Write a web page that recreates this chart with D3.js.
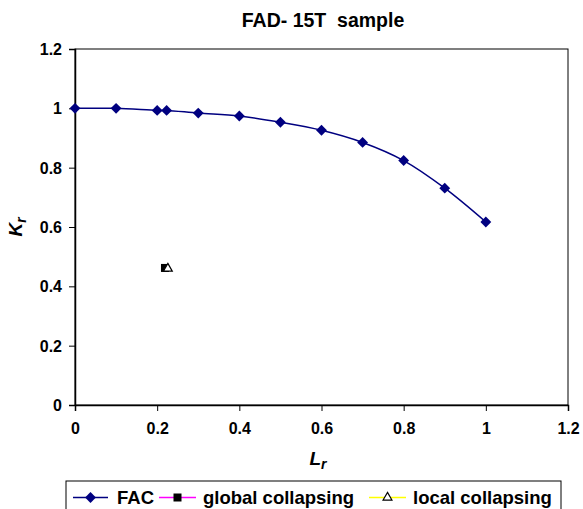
<!DOCTYPE html>
<html>
<head>
<meta charset="UTF-8">
<script src="https://cdn.jsdelivr.net/npm/d3@7"></script>
<style>
  body{margin:0;background:#fff;}
  text{font-family:"Liberation Sans",Arial,sans-serif;font-weight:bold;fill:#000;}
</style>
</head>
<body>
<div id="chart"></div>
<script>
// data
var facLr = [0, 0.1, 0.2, 0.223, 0.3, 0.4, 0.5, 0.6, 0.7, 0.8, 0.9, 1.0];
var facKr = [1, 1, 0.993, 0.993, 0.984, 0.974, 0.953, 0.926, 0.885, 0.824, 0.731, 0.617];
var globalLr = [0.219];
var globalKr = [0.462];
var localLr = [0.226];
var localKr = [0.46];
var xTicks = [0, 0.2, 0.4, 0.6, 0.8, 1, 1.2];
var yTicks = [0, 0.2, 0.4, 0.6, 0.8, 1, 1.2];

var W = 583, H = 509;
var m = {left: 75, right: 15, top: 49, bottom: 104};
var pw = W - m.left - m.right, ph = H - m.top - m.bottom;

var svg = d3.select('#chart').append('svg')
    .attr('width', W).attr('height', H);

var x = d3.scaleLinear().domain([0, 1.2]).range([0, pw]);
var y = d3.scaleLinear().domain([0, 1.2]).range([ph, 0]);

var g = svg.append('g').attr('transform', 'translate(' + m.left + ',' + m.top + ')');

// frame
g.append('rect').attr('width', pw).attr('height', ph)
    .attr('fill', 'none').attr('stroke', '#000').attr('stroke-width', 1);

var xAxis = g.append('g').attr('transform', 'translate(0,' + ph + ')')
    .call(d3.axisBottom(x).tickValues(xTicks).tickFormat(d3.format('')).tickSize(6).tickPadding(12));
var yAxis = g.append('g')
    .call(d3.axisLeft(y).tickValues(yTicks).tickFormat(d3.format('')).tickSize(6).tickPadding(7));
[xAxis, yAxis].forEach(function(a){
    a.select('.domain').attr('stroke', '#000').attr('stroke-width', 1.5);
    a.selectAll('.tick line').attr('stroke', '#000');
    a.selectAll('.tick text').style('font-size', '16px').style('font-family', '"Liberation Sans",Arial,sans-serif').attr('font-weight', 'bold');
});
yAxis.selectAll('.tick text').attr('dy', '0.35em');

// FAC series
var fac = facLr.map(function(d, i){ return [d, facKr[i]]; });
var line = d3.line().x(function(d){ return x(d[0]); }).y(function(d){ return y(d[1]); })
    .curve(d3.curveCatmullRom.alpha(0.5));
g.append('path').datum(fac).attr('d', line)
    .attr('fill', 'none').attr('stroke', '#000080').attr('stroke-width', 1.5);

var diamond = d3.symbol().type(d3.symbolDiamond2).size(75);
g.selectAll('.fac').data(fac).enter().append('path')
    .attr('class', 'fac')
    .attr('d', diamond)
    .attr('transform', function(d){ return 'translate(' + x(d[0]) + ',' + y(d[1]) + ')'; })
    .attr('fill', '#000080');

// global collapsing
g.selectAll('.glob').data(globalLr).enter().append('rect')
    .attr('class', 'glob')
    .attr('x', function(d){ return x(d) - 4; })
    .attr('y', function(d, i){ return y(globalKr[i]) - 4; })
    .attr('width', 8).attr('height', 8).attr('fill', '#000');

// local collapsing
var tri = d3.symbol().type(d3.symbolTriangle).size(34);
g.selectAll('.loc').data(localLr).enter().append('path')
    .attr('class', 'loc')
    .attr('d', tri)
    .attr('transform', function(d, i){ return 'translate(' + x(d) + ',' + y(localKr[i]) + ')'; })
    .attr('fill', '#fff').attr('stroke', '#000').attr('stroke-width', 1.2);

// title
svg.append('text').attr('x', 323).attr('y', 27).attr('text-anchor', 'middle')
    .style('font-size', '19.5px').style('white-space', 'pre').text('FAD- 15T  sample');

// axis titles
var xl = svg.append('text').attr('x', 318).attr('y', 465).attr('text-anchor', 'middle')
    .style('font-size', '19px').style('font-style', 'italic');
xl.append('tspan').text('L');
xl.append('tspan').attr('dy', 4).style('font-size', '14px').text('r');

var yl = svg.append('text').attr('transform', 'translate(22,227) rotate(-90)').attr('text-anchor', 'middle')
    .style('font-size', '19px').style('font-style', 'italic');
yl.append('tspan').text('K');
yl.append('tspan').attr('dy', 4).style('font-size', '14px').text('r');

// legend
var lg = svg.append('g');
lg.append('rect').attr('x', 66).attr('y', 481).attr('width', 495).attr('height', 40)
    .attr('fill', '#fff').attr('stroke', '#000').attr('stroke-width', 1);
var ly = 497.5;
var items = [
    {name: 'FAC', color: '#000080', x0: 73, x1: 108, tx: 117},
    {name: 'global collapsing', color: '#ff00ff', x0: 159, x1: 196, tx: 203},
    {name: 'local collapsing', color: '#ffff00', x0: 369, x1: 406, tx: 413}
];
items.forEach(function(it, i){
    lg.append('line').attr('x1', it.x0).attr('x2', it.x1).attr('y1', ly).attr('y2', ly)
        .attr('stroke', it.color).attr('stroke-width', 1.5);
    var cx = (it.x0 + it.x1) / 2;
    if (i === 0) {
        lg.append('path').attr('d', diamond).attr('transform', 'translate(' + cx + ',' + ly + ')').attr('fill', '#000080');
    } else if (i === 1) {
        lg.append('rect').attr('x', cx - 4).attr('y', ly - 4).attr('width', 8).attr('height', 8).attr('fill', '#000');
    } else {
        lg.append('path').attr('d', tri).attr('transform', 'translate(' + cx + ',' + ly + ')')
            .attr('fill', '#fff').attr('stroke', '#000').attr('stroke-width', 1.2);
    }
    lg.append('text').attr('x', it.tx).attr('y', ly + 6).style('font-size', '18.5px').text(it.name);
});
</script>
</body>
</html>
